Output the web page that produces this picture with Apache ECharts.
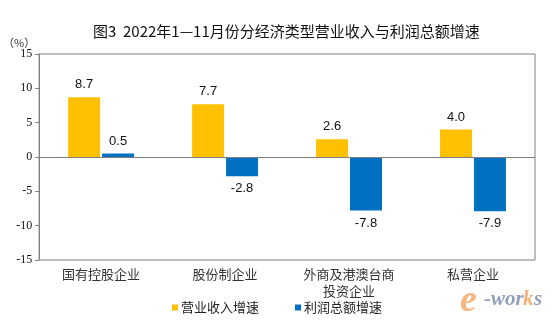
<!DOCTYPE html>
<html><head><meta charset="utf-8">
<script src="https://cdn.jsdelivr.net/npm/echarts@6/dist/echarts.min.js"></script>
<style>html,body{margin:0;padding:0;background:#fff}#c{width:554px;height:321px}</style>
</head><body><div id="c"></div>
<script>
const categories = ['国有控股企业', '股份制企业', '外商及港澳台商\n投资企业', '私营企业'];
const revenueGrowth = [8.7, 7.7, 2.6, 4.0];
const profitGrowth = [0.5, -2.8, -7.8, -7.9];
const seriesNames = ['营业收入增速', '利润总额增速'];
const yTicks = { min: -15, max: 15, interval: 5 };

const cjk = '"Noto Sans CJK SC", "Noto Sans", sans-serif';
function lab(v) {
  return { value: v, label: { position: v < 0 ? 'bottom' : 'top', formatter: v.toFixed(1) } };
}
const chart = echarts.init(document.getElementById('c'));
chart.setOption({
  animation: false,
  title: {
    text: '图3  2022年1—11月份分经济类型营业收入与利润总额增速',
    left: 88, top: 19,
    textStyle: { fontSize: 15, fontWeight: 'normal', color: '#111', fontFamily: cjk }
  },
  grid: { left: 37, right: 19, top: 54, bottom: 61, show: true, borderColor: '#808080', borderWidth: 1 },
  legend: {
    bottom: 2, left: 'center', itemGap: 36, itemWidth: 6, itemHeight: 6, icon: 'rect',
    textStyle: { fontSize: 13, color: '#222', fontFamily: cjk, padding: [0,0,0,-2] },
    data: seriesNames
  },
  xAxis: {
    type: 'category', data: categories,
    axisLine: { show: false }, axisTick: { show: false },
    axisLabel: { fontSize: 13, color: '#333', fontFamily: cjk, margin: 6, lineHeight: 17, interval: 0 }
  },
  yAxis: {
    type: 'value', min: yTicks.min, max: yTicks.max, interval: yTicks.interval,
    name: '（%）', nameLocation: 'end', nameGap: 4,
    nameTextStyle: { fontSize: 11, color: '#333', fontFamily: cjk, align: 'right', padding: [0, 4, 0, 0] },
    axisLine: { show: true, lineStyle: { color: '#808080' } },
    axisTick: { show: true, length: 4, lineStyle: { color: '#808080' } },
    splitLine: { show: false },
    axisLabel: { fontSize: 12, color: '#111', fontFamily: '"Liberation Serif", "Times New Roman", serif', margin: 7 }
  },
  series: [
    {
      name: seriesNames[0], type: 'bar', data: revenueGrowth.map(lab),
      barWidth: 32, barGap: '6%',
      itemStyle: { color: '#FFC000' },
      label: { show: true, fontSize: 13, color: '#111', fontFamily: '"Liberation Sans", Arial, sans-serif', distance: 6 }
    },
    {
      name: seriesNames[1], type: 'bar', data: profitGrowth.map(lab),
      barWidth: 32,
      itemStyle: { color: '#0070C0' },
      label: { show: true, fontSize: 13, color: '#111', fontFamily: '"Liberation Sans", Arial, sans-serif', distance: 6 },
      markLine: {
        silent: true, symbol: 'none', label: { show: false },
        lineStyle: { color: '#808080', type: 'solid', width: 1 },
        data: [{ yAxis: 0 }]
      }
    }
  ],
  graphic: [
    { type: 'text', left: 460, top: 282, style: { text: 'e', fontSize: 38, fontStyle: 'italic', fontWeight: 'bold', fontFamily: 'Liberation Serif', fill: '#F4A460', opacity: 0.8 } },
    { type: 'text', left: 484, top: 289, style: { text: '-wor', fontSize: 21, fontStyle: 'italic', fontWeight: 'bold', fontFamily: 'Liberation Serif', fill: '#7F8FB0', opacity: 0.85 } },
    { type: 'text', left: 523, top: 289, style: { text: 'k', fontSize: 21, fontStyle: 'italic', fontWeight: 'bold', fontFamily: 'Liberation Serif', fill: '#F4A460', opacity: 0.85 } },
    { type: 'text', left: 534, top: 289, style: { text: 's', fontSize: 21, fontStyle: 'italic', fontWeight: 'bold', fontFamily: 'Liberation Serif', fill: '#7F8FB0', opacity: 0.85 } }
  ]
});
</script></body></html>
